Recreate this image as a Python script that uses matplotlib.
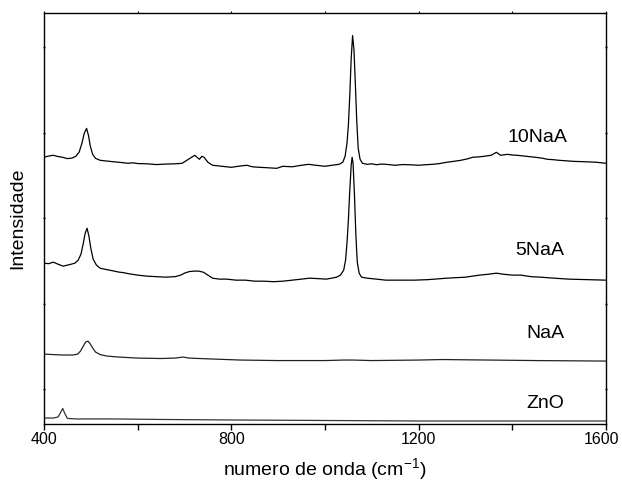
import matplotlib.pyplot as plt
import matplotlib.transforms as mtransforms
from matplotlib.ticker import MultipleLocator

plt.rcParams['font.family'] = ['Liberation Sans', 'DejaVu Sans']
plt.rcParams['mathtext.default'] = 'regular'

# Raman spectra, stacked with offsets (a.u.)
wn_10 = [400, 410, 420, 430, 440, 450, 460, 468, 475, 481, 486, 491, 495, 499, 504, 510,
         520, 530, 540, 550, 560, 570, 580, 590, 600, 620, 640, 660, 680, 695, 705, 715, 722,
         727, 732, 737, 742, 750, 760, 770, 780, 790, 800, 815, 833, 845, 860, 880, 897, 910,
         930, 950, 965, 980, 1000, 1015, 1030, 1038, 1043, 1047, 1050, 1053, 1056, 1059,
         1062, 1065, 1068, 1071, 1075, 1080, 1090, 1100, 1110, 1120, 1130, 1150, 1165, 1180,
         1200, 1215, 1230, 1245, 1260, 1275, 1290, 1305, 1315, 1330, 1340, 1355, 1366, 1375,
         1390, 1400, 1410, 1420, 1430, 1440, 1450, 1465, 1475, 1490, 1500, 1515, 1530, 1545,
         1560, 1580, 1590, 1600]
i_10 = [2713, 2728, 2737, 2722, 2713, 2698, 2704, 2725, 2772, 2877, 2994, 3052, 2970, 2842,
        2748, 2701, 2678, 2672, 2666, 2660, 2655, 2649, 2643, 2649, 2640, 2637, 2628, 2634,
        2637, 2643, 2678, 2713, 2737, 2713, 2690, 2725, 2713, 2655, 2620, 2614, 2608, 2602,
        2596, 2608, 2620, 2602, 2596, 2590, 2584, 2608, 2602, 2620, 2631, 2620, 2608, 2620,
        2631, 2655, 2725, 2877, 3088, 3439, 3871, 4140, 3965, 3556, 3123, 2818, 2690, 2643,
        2631, 2637, 2626, 2634, 2631, 2620, 2628, 2626, 2620, 2626, 2631, 2640, 2655, 2666,
        2678, 2696, 2713, 2719, 2725, 2737, 2772, 2737, 2748, 2740, 2737, 2731, 2725, 2719,
        2713, 2702, 2690, 2684, 2678, 2672, 2666, 2663, 2660, 2655, 2649, 2643]

wn_5 = [400, 410, 420, 430, 441, 450, 458, 466, 473, 479, 484, 488, 492, 496, 500, 505,
        512, 520, 530, 540, 550, 560, 570, 580, 600, 620, 640, 660, 680, 692, 700, 710, 720,
        730, 740, 750, 760, 775, 790, 810, 830, 850, 870, 890, 910, 930, 950, 967, 985, 1003,
        1014, 1025, 1033, 1040, 1044, 1047, 1050, 1053, 1056, 1058, 1060, 1063, 1066, 1069,
        1073, 1078, 1090, 1110, 1130, 1160, 1190, 1220, 1260, 1300, 1330, 1350, 1366, 1380,
        1400, 1418, 1440, 1460, 1490, 1520, 1560, 1600]
i_5 = [1473, 1467, 1485, 1461, 1438, 1450, 1461, 1473, 1508, 1578, 1707, 1824, 1882, 1789,
       1648, 1520, 1450, 1414, 1402, 1391, 1380, 1368, 1362, 1350, 1333, 1321, 1315, 1309,
       1315, 1333, 1356, 1374, 1380, 1380, 1368, 1333, 1297, 1286, 1286, 1274, 1274, 1262,
       1262, 1256, 1262, 1274, 1286, 1297, 1292, 1286, 1297, 1309, 1333, 1391, 1508, 1707,
       1976, 2327, 2620, 2713, 2643, 2269, 1800, 1485, 1356, 1309, 1297, 1286, 1274, 1274,
       1274, 1280, 1297, 1309, 1333, 1344, 1356, 1344, 1333, 1333, 1315, 1309, 1297, 1286,
       1280, 1274]

wn_naa = [400, 420, 440, 462, 472, 478, 484, 489, 494, 499, 504, 510, 520, 534, 560, 600,
          650, 680, 697, 710, 760, 820, 900, 1000, 1040, 1060, 1100, 1200, 1250, 1350, 1450,
          1600]
i_naa = [408, 402, 397, 397, 408, 443, 502, 549, 560, 525, 479, 432, 402, 385, 373, 361,
         356, 361, 373, 361, 350, 338, 332, 332, 338, 338, 332, 338, 344, 338, 332, 326]

wn_zno = [400, 420, 430, 435, 440, 445, 450, 470, 550, 650, 800, 1000, 1200, 1400, 1600]
i_zno = [-341, -341, -329, -282, -229, -294, -346, -352, -352, -358, -364, -370, -376,
         -376, -376]

labels = ['10NaA', '5NaA', 'NaA', 'ZnO']
label_x = [1453, 1459, 1470, 1470]
label_y = [2950, 1620, 650, -170]

fig = plt.figure(figsize=(6.22, 4.86), dpi=100)
ax = fig.add_axes([0.0707, 0.1276, 0.9035, 0.845])

ax.plot(wn_10, i_10, color='black', lw=0.9)
ax.plot(wn_5, i_5, color='black', lw=0.9)
ax.plot(wn_naa, i_naa, color='#222222', lw=0.9)
ax.plot(wn_zno, i_zno, color='#333333', lw=0.9)

for lab, lx, ly in zip(labels, label_x, label_y):
    ax.text(lx, ly, lab, fontsize=14, ha='center', va='center')

ax.set_xlim(400, 1600)
ax.set_ylim(-411, 4400)
ax.xaxis.set_major_locator(MultipleLocator(400))
ax.xaxis.set_minor_locator(MultipleLocator(200))
ax.yaxis.set_major_locator(MultipleLocator(1000))
ax.set_yticklabels([])
ax.tick_params(axis='x', which='both', direction='out', length=4, width=1,
               labelsize=11.5, pad=2, top=True, labeltop=False)
ax.tick_params(axis='y', which='both', direction='inout', length=2, width=1,
               right=True)

# barely-there ticks along the top edge
for t in ax.xaxis.get_major_ticks() + ax.xaxis.get_minor_ticks():
    t.tick2line.set_markersize(1.5)
    t.tick2line.set_markeredgewidth(0.8)

for s in ax.spines.values():
    s.set_linewidth(1)

ax.set_xlabel('numero de onda (cm$^{-1}$)', fontsize=14, labelpad=6)
ax.set_ylabel('Intensidade', fontsize=14, labelpad=8)

# keep the last tick label inside the canvas
fig.canvas.draw()
last = ax.xaxis.get_major_ticks()[-1].label1
for t in ax.xaxis.get_major_ticks():
    if t.get_loc() == 1600:
        last = t.label1
last.set_transform(last.get_transform() +
                   mtransforms.ScaledTranslation(-3 / 72, 0, fig.dpi_scale_trans))

fig.savefig('out.png', dpi=100)
